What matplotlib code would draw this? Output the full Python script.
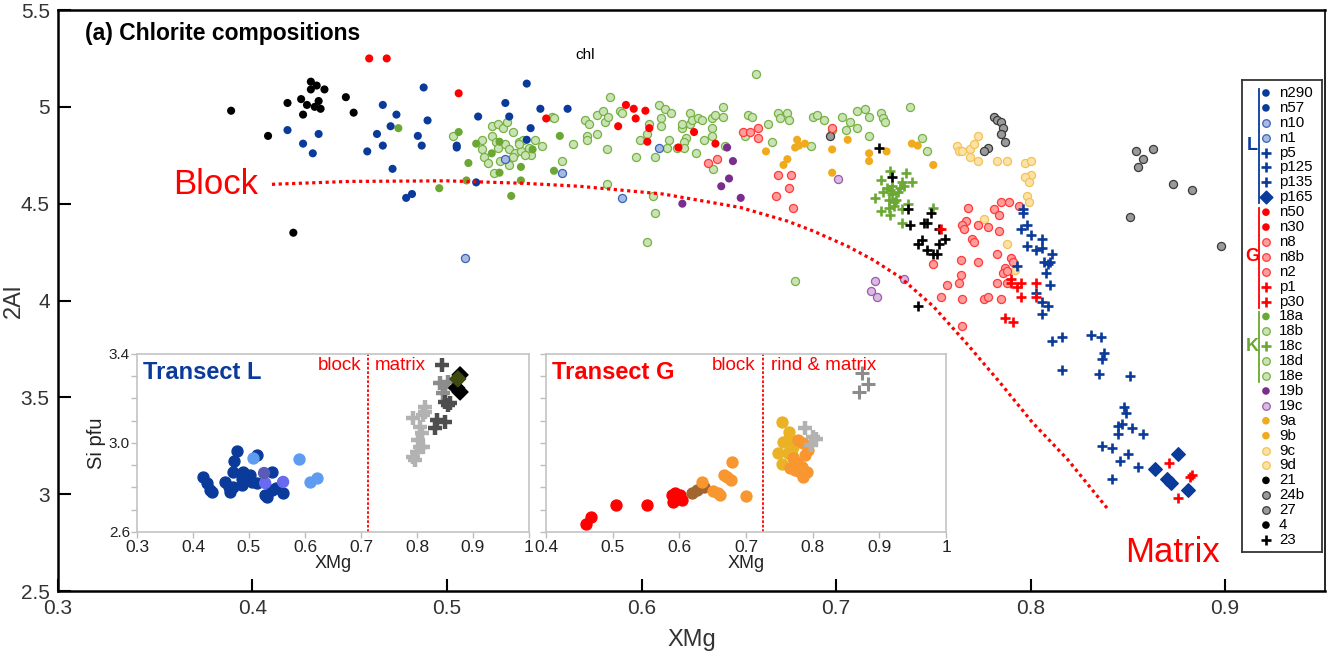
import matplotlib.pyplot as plt
from matplotlib.ticker import FormatStrFormatter, MultipleLocator

plt.rcParams['font.family'] = ['Liberation Sans', 'DejaVu Sans']

# ---------------- main plot data (XMg, 2Al) ----------------
x_black = [0.389, 0.408, 0.418, 0.425, 0.428, 0.426, 0.430, 0.433, 0.430, 0.437,
           0.434, 0.432, 0.435, 0.448, 0.452, 0.421]
y_black = [4.98, 4.85, 5.02, 5.04, 5.01, 4.96, 5.13, 5.11, 5.09, 5.09,
           5.03, 5.00, 4.99, 5.05, 4.97, 4.35]

x_dblue = [0.418, 0.426, 0.431, 0.434, 0.467, 0.474, 0.471, 0.464, 0.467, 0.459,
           0.472, 0.479, 0.482, 0.488, 0.490, 0.485, 0.487, 0.505, 0.505, 0.516,
           0.530, 0.532, 0.541, 0.543, 0.541, 0.548, 0.562, 0.515]
y_dblue = [4.88, 4.81, 4.76, 4.86, 5.01, 4.96, 4.90, 4.86, 4.80, 4.77,
           4.68, 4.53, 4.55, 5.10, 4.93, 4.85, 4.80, 4.79, 4.80, 4.95,
           5.02, 4.95, 5.12, 4.89, 4.83, 4.99, 4.99, 4.61]

x_red = [0.460, 0.469, 0.506, 0.551, 0.592, 0.596, 0.597, 0.602, 0.588, 0.603,
         0.604, 0.627, 0.638, 0.619]
y_red = [5.25, 5.25, 5.07, 4.94, 5.01, 4.99, 4.94, 4.98, 4.90, 4.82,
         4.89, 4.87, 4.81, 4.79]

x_lgreen = [0.503, 0.523, 0.526, 0.529, 0.531, 0.534, 0.518, 0.523, 0.525, 0.530,
            0.537, 0.539, 0.545, 0.549, 0.518, 0.526, 0.532, 0.535, 0.538, 0.542,
            0.543, 0.519, 0.521, 0.527, 0.532, 0.524, 0.554, 0.555, 0.559, 0.565,
            0.571, 0.573, 0.577, 0.572, 0.572, 0.577, 0.534, 0.537, 0.540, 0.580,
            0.581, 0.583, 0.584, 0.582, 0.589, 0.590, 0.599, 0.597, 0.603, 0.604,
            0.609, 0.612, 0.615, 0.610, 0.610, 0.607, 0.614, 0.613, 0.618, 0.621,
            0.621, 0.625, 0.625, 0.626, 0.629, 0.631, 0.623, 0.622, 0.622, 0.628,
            0.632, 0.636, 0.636, 0.636, 0.638, 0.642, 0.642, 0.643, 0.637, 0.655,
            0.657, 0.653, 0.659, 0.665, 0.670, 0.671, 0.675, 0.676, 0.667, 0.687,
            0.688, 0.690, 0.694, 0.698, 0.703, 0.705, 0.707, 0.711, 0.715, 0.717,
            0.711, 0.717, 0.723, 0.724, 0.725, 0.738, 0.744, 0.747, 0.582, 0.606,
            0.607, 0.603, 0.679]
y_lgreen = [4.85, 4.90, 4.91, 4.89, 4.92, 4.87, 4.83, 4.85, 4.82, 4.81,
            4.82, 4.83, 4.83, 4.80, 4.78, 4.79, 4.78, 4.76, 4.77, 4.79,
            4.75, 4.74, 4.71, 4.72, 4.70, 4.66, 4.95, 4.94, 4.72, 4.81,
            4.93, 4.91, 4.96, 4.85, 4.83, 4.86, 4.74, 4.81, 4.75, 4.98,
            4.92, 4.95, 5.05, 4.78, 4.98, 4.97, 4.83, 4.74, 4.86, 4.91,
            5.01, 4.99, 4.97, 4.94, 4.90, 4.74, 4.83, 4.79, 4.79, 4.89,
            4.91, 4.97, 4.91, 4.93, 4.94, 4.93, 4.84, 4.82, 4.79, 4.76,
            4.83, 4.89, 4.85, 4.94, 4.96, 5.00, 4.95, 4.80, 4.68, 4.96,
            4.95, 4.85, 5.17, 4.91, 4.97, 4.94, 4.97, 4.93, 4.82, 4.80,
            4.95, 4.96, 4.93, 4.88, 4.95, 4.88, 4.92, 4.98, 4.99, 4.95,
            4.89, 4.85, 4.97, 4.94, 4.92, 5.00, 4.84, 4.77, 4.60, 4.54,
            4.45, 4.30, 4.10]

x_green = [0.475, 0.506, 0.515, 0.511, 0.510, 0.496, 0.523, 0.527, 0.538, 0.538,
           0.533, 0.544, 0.555, 0.558, 0.527]
y_green = [4.89, 4.87, 4.81, 4.71, 4.62, 4.58, 4.76, 4.66, 4.69, 4.62,
           4.54, 4.78, 4.67, 4.85, 4.82]

x_gplus = [0.728, 0.736, 0.723, 0.734, 0.739, 0.724, 0.720, 0.728, 0.729, 0.732,
           0.731, 0.727, 0.730, 0.723, 0.728, 0.727, 0.734, 0.737, 0.734, 0.750,
           0.735, 0.729, 0.733, 0.726, 0.730]
y_gplus = [4.67, 4.66, 4.62, 4.61, 4.61, 4.56, 4.53, 4.57, 4.55, 4.56,
           4.52, 4.52, 4.51, 4.46, 4.44, 4.48, 4.47, 4.50, 4.40, 4.48,
           4.59, 4.59, 4.58, 4.58, 4.49]

x_lblue = [0.530, 0.559, 0.509, 0.609, 0.590]
y_lblue = [4.73, 4.66, 4.22, 4.79, 4.53]

x_purple = [0.644, 0.647, 0.645, 0.641, 0.651, 0.621]
y_purple = [4.79, 4.72, 4.63, 4.59, 4.53, 4.50]

x_lpurple = [0.701, 0.720, 0.718, 0.721, 0.735]
y_lpurple = [4.63, 4.10, 4.05, 4.02, 4.11]

x_orange = [0.664, 0.673, 0.675, 0.680, 0.681, 0.679, 0.684, 0.698, 0.698, 0.706,
            0.717, 0.717, 0.726, 0.739, 0.742, 0.750]
y_orange = [4.77, 4.70, 4.73, 4.83, 4.80, 4.79, 4.81, 4.78, 4.66, 4.83,
            4.76, 4.72, 4.77, 4.81, 4.80, 4.70]

x_lyellow = [0.762, 0.763, 0.765, 0.769, 0.771, 0.773, 0.769, 0.773, 0.783, 0.788,
             0.797, 0.800, 0.800, 0.797, 0.799, 0.798, 0.799, 0.776, 0.788, 0.792]
y_lyellow = [4.80, 4.77, 4.77, 4.78, 4.81, 4.85, 4.74, 4.72, 4.72, 4.72,
             4.71, 4.72, 4.65, 4.64, 4.61, 4.54, 4.51, 4.42, 4.29, 4.16]

x_gray = [0.781, 0.783, 0.785, 0.786, 0.785, 0.787, 0.778, 0.776, 0.854, 0.863,
          0.858, 0.855, 0.873, 0.883, 0.851, 0.898, 0.697]
y_gray = [4.95, 4.93, 4.92, 4.89, 4.86, 4.82, 4.79, 4.77, 4.77, 4.78,
          4.73, 4.69, 4.60, 4.57, 4.43, 4.28, 4.85]

x_lred = [0.652, 0.656, 0.660, 0.660, 0.634, 0.639, 0.670, 0.677, 0.676, 0.669,
          0.678, 0.698, 0.768, 0.781, 0.785, 0.789, 0.784, 0.794, 0.767, 0.765,
          0.766, 0.773, 0.778, 0.784, 0.770, 0.771, 0.783, 0.790, 0.791, 0.750,
          0.764, 0.773, 0.787, 0.786, 0.788, 0.764, 0.763, 0.783, 0.788, 0.757,
          0.754, 0.765, 0.776, 0.778, 0.785, 0.765]
y_lred = [4.87, 4.87, 4.89, 4.84, 4.71, 4.73, 4.65, 4.65, 4.58, 4.54,
          4.48, 4.89, 4.48, 4.47, 4.51, 4.51, 4.44, 4.49, 4.41, 4.39,
          4.37, 4.39, 4.38, 4.36, 4.32, 4.30, 4.24, 4.22, 4.20, 4.19,
          4.21, 4.20, 4.17, 4.14, 4.15, 4.13, 4.09, 4.09, 4.09, 4.08,
          4.02, 4.01, 4.01, 4.02, 4.01, 3.87]

x_rplus = [0.790, 0.790, 0.793, 0.795, 0.795, 0.803, 0.803, 0.787, 0.791, 0.871,
           0.883, 0.882, 0.876, 0.754]
y_rplus = [4.11, 4.09, 4.07, 4.09, 4.02, 4.09, 4.02, 3.91, 3.89, 3.16,
           3.10, 3.09, 2.98, 4.37]

x_bplus = [0.796, 0.796, 0.795, 0.798, 0.800, 0.806, 0.798, 0.803, 0.806, 0.811,
           0.807, 0.809, 0.810, 0.793, 0.808, 0.810, 0.803, 0.806, 0.809, 0.806,
           0.811, 0.816, 0.831, 0.836, 0.838, 0.837, 0.816, 0.835, 0.851, 0.848,
           0.849, 0.845, 0.847, 0.852, 0.845, 0.858, 0.837, 0.842, 0.850, 0.846,
           0.855, 0.842]
y_bplus = [4.47, 4.45, 4.37, 4.39, 4.34, 4.32, 4.28, 4.26, 4.27, 4.24,
           4.20, 4.19, 4.20, 4.18, 4.14, 4.08, 4.04, 3.99, 3.97, 3.93,
           3.79, 3.81, 3.82, 3.81, 3.73, 3.70, 3.64, 3.62, 3.61, 3.45,
           3.42, 3.35, 3.36, 3.34, 3.31, 3.31, 3.25, 3.24, 3.21, 3.17,
           3.14, 3.08]

x_bdiam = [0.876, 0.864, 0.870, 0.872, 0.881]
y_bdiam = [3.21, 3.13, 3.08, 3.06, 3.02]

x_kplus = [0.722, 0.729, 0.737, 0.749, 0.738, 0.745, 0.747, 0.753, 0.756, 0.744,
           0.742, 0.753, 0.747, 0.750, 0.752, 0.742]
y_kplus = [4.79, 4.64, 4.47, 4.45, 4.39, 4.40, 4.40, 4.37, 4.32, 4.31,
           4.29, 4.29, 4.26, 4.24, 4.24, 3.97]

# block -> matrix guide curve
curve_x = [0.410, 0.450, 0.500, 0.540, 0.568, 0.611, 0.651, 0.675, 0.688, 0.706,
           0.719, 0.733, 0.750, 0.767, 0.784, 0.801, 0.819, 0.840]
curve_y = [4.600, 4.615, 4.618, 4.605, 4.59, 4.55, 4.48, 4.41, 4.36, 4.28,
           4.21, 4.12, 3.97, 3.78, 3.58, 3.37, 3.18, 2.92]

# ---------------- inset data (XMg, Si pfu) ----------------
L_dblue_x = [0.418, 0.425, 0.430, 0.434, 0.457, 0.464, 0.466, 0.471, 0.473, 0.479,
             0.471, 0.489, 0.488, 0.488, 0.502, 0.505, 0.514, 0.514, 0.529, 0.532,
             0.541, 0.541, 0.548, 0.561]
L_dblue_y = [2.847, 2.820, 2.789, 2.780, 2.825, 2.802, 2.780, 2.802, 2.919, 2.964,
             2.870, 2.870, 2.838, 2.811, 2.856, 2.825, 2.820, 2.946, 2.766, 2.757,
             2.870, 2.789, 2.798, 2.775]
L_light_x = [0.507, 0.589, 0.609, 0.621]
L_light_y = [2.933, 2.928, 2.825, 2.843]
L_violet_x = [0.529, 0.561, 0.527]
L_violet_y = [2.820, 2.825, 2.865]
L_lgray_x = [0.793, 0.814, 0.811, 0.805, 0.809, 0.802, 0.805, 0.811, 0.800, 0.793, 0.796, 0.814]
L_lgray_y = [3.112, 3.162, 3.126, 3.072, 3.045, 3.013, 2.982, 2.982, 2.960, 2.937, 2.924, 3.139]
L_mgray_x = [0.841, 0.850, 0.855, 0.846]
L_mgray_y = [3.270, 3.252, 3.274, 3.225]
L_dgray_x = [0.845, 0.850, 0.855, 0.836, 0.850, 0.832, 0.859]
L_dgray_y = [3.351, 3.184, 3.171, 3.103, 3.094, 3.067, 3.180]
L_diam_x = [0.877, 0.871, 0.877, 0.873]
L_diam_y = [3.306, 3.247, 3.229, 3.288]

G_red_x = [0.460, 0.468, 0.505, 0.552, 0.589, 0.594, 0.591, 0.601, 0.604, 0.598]
G_red_y = [2.636, 2.667, 2.721, 2.721, 2.766, 2.775, 2.735, 2.766, 2.744, 2.757]
G_brown_x = [0.619, 0.627, 0.637]
G_brown_y = [2.775, 2.789, 2.802]
G_orange_x = [0.634, 0.650, 0.661, 0.658, 0.667, 0.671, 0.677, 0.679, 0.700, 0.770,
              0.778, 0.785, 0.788, 0.784, 0.791, 0.773, 0.766, 0.776, 0.793, 0.785, 0.781]
G_orange_y = [2.825, 2.784, 2.766, 2.775, 2.856, 2.847, 2.834, 2.915, 2.762, 2.933,
              3.013, 3.000, 2.946, 2.892, 2.870, 2.879, 2.888, 2.915, 2.969, 2.847, 2.870]
G_gold_x = [0.754, 0.764, 0.755, 0.763, 0.770, 0.748, 0.763, 0.754, 0.769]
G_gold_y = [3.094, 3.049, 3.004, 3.013, 2.982, 2.955, 2.955, 2.906, 2.946]
G_lgray_x = [0.789, 0.800, 0.805, 0.797]
G_lgray_y = [3.067, 3.027, 3.018, 2.991]
G_mgray_x = [0.874, 0.883, 0.869]
G_mgray_y = [3.315, 3.265, 3.229]

# ---------------- legend ----------------
legend_labels = ['n290', 'n57', 'n10', 'n1', 'p5', 'p125', 'p135', 'p165',
                 'n50', 'n30', 'n8', 'n8b', 'n2', 'p1', 'p30',
                 '18a', '18b', '18c', '18d', '18e',
                 '19b', '19c', '9a', '9b', '9c', '9d', '21', '24b', '27', '4', '23']
legend_keys = ['dblue', 'dblue', 'lblue', 'lblue', 'bplus', 'bplus', 'bplus', 'bdiam',
               'red', 'red', 'lred', 'lred', 'lred', 'rplus', 'rplus',
               'green', 'lgreen', 'gplus', 'lgreen', 'lgreen',
               'purple', 'lpurple', 'orange', 'orange', 'lyellow', 'lyellow',
               'black', 'gray', 'gray', 'black', 'kplus']
groups = [('L', 0, 7, '#0a3a9a'), ('G', 8, 14, '#ff0000'), ('K', 15, 19, '#6aa833')]

STYLES = {
    'dblue': ('o', '#0a3a9a', 'none'),
    'lblue': ('o', '#a9b9e0', '#3763b8'),
    'bplus': ('+', '#0a3a9a', None),
    'bdiam': ('D', '#0a3a9a', None),
    'red': ('o', '#ff0000', 'none'),
    'lred': ('o', '#ff9d9d', '#ff3a3a'),
    'rplus': ('+', '#ff0000', None),
    'green': ('o', '#6aa833', 'none'),
    'lgreen': ('o', '#cae3b4', '#77b144'),
    'gplus': ('+', '#6aa833', None),
    'purple': ('o', '#7b2d8e', 'none'),
    'lpurple': ('o', '#dabae2', '#9b5bab'),
    'orange': ('o', '#f0aa1e', 'none'),
    'lyellow': ('o', '#fde2a6', '#f2c25a'),
    'black': ('o', 'black', 'none'),
    'gray': ('o', '#9a9a9a', '#3a3a3a'),
    'kplus': ('+', 'black', None),
}


def draw(ax, x, y, key, s=34, zorder=3):
    marker, color, edge = STYLES[key]
    if marker == '+':
        ax.scatter(x, y, marker='+', s=s * 1.5, c=color, linewidths=1.9, zorder=zorder)
    elif marker == 'D':
        ax.scatter(x, y, marker='D', s=s * 1.4, c=color, zorder=zorder)
    else:
        ax.scatter(x, y, marker='o', s=s, c=color, edgecolors=edge, linewidths=0.9, zorder=zorder)


fig = plt.figure(figsize=(13.27, 6.55), dpi=100)
ax = fig.add_axes([0.0437, 0.0977, 0.9548, 0.887])

draw(ax, x_lgreen, y_lgreen, 'lgreen')
draw(ax, x_green, y_green, 'green')
draw(ax, x_black, y_black, 'black')
draw(ax, x_dblue, y_dblue, 'dblue')
draw(ax, x_red, y_red, 'red')
draw(ax, x_lblue, y_lblue, 'lblue')
draw(ax, x_purple, y_purple, 'purple')
draw(ax, x_lpurple, y_lpurple, 'lpurple')
draw(ax, x_orange, y_orange, 'orange')
draw(ax, x_lyellow, y_lyellow, 'lyellow')
draw(ax, x_gray, y_gray, 'gray')
draw(ax, x_lred, y_lred, 'lred')
draw(ax, x_gplus, y_gplus, 'gplus')
draw(ax, x_kplus, y_kplus, 'kplus')
draw(ax, x_bplus, y_bplus, 'bplus')
draw(ax, x_rplus, y_rplus, 'rplus')
draw(ax, x_bdiam, y_bdiam, 'bdiam')

ax.plot(curve_x, curve_y, color='red', lw=2.3, ls=(0, (1, 1.1)), zorder=4)

ax.set_xlim(0.3, 0.9514)
ax.set_ylim(2.5, 5.5)
ax.set_xticks([0.3, 0.4, 0.5, 0.6, 0.7, 0.8, 0.9])
ax.set_yticks([2.5, 3, 3.5, 4, 4.5, 5, 5.5])
ax.xaxis.set_major_formatter(FormatStrFormatter('%g'))
ax.yaxis.set_major_formatter(FormatStrFormatter('%g'))
ax.tick_params(direction='in', length=9, width=1.5, labelsize=15, pad=6, colors='black',
               labelcolor='#333333')
for side in ['left', 'bottom', 'top']:
    ax.spines[side].set_linewidth(1.8)
ax.spines['right'].set_linewidth(1.2)
ax.set_xlabel('XMg', fontsize=17, color='#333333', labelpad=8)
ax.set_ylabel('2Al', fontsize=17, color='#333333')
ax.yaxis.set_label_coords(-0.026, 0.5)

ax.text(0.0213, 0.960, '(a) Chlorite compositions', transform=ax.transAxes,
        fontsize=16.5, fontweight='bold', va='center', ha='left')
ax.text(0.416, 0.9225, 'chl', transform=ax.transAxes, fontsize=11, va='center', ha='center')
ax.text(0.381, 4.60, 'Block', color='red', fontsize=25, ha='center', va='center')
ax.text(0.873, 2.70, 'Matrix', color='red', fontsize=25, ha='center', va='center')

# ---------------- insets ----------------
insL = fig.add_axes([0.1032, 0.1878, 0.2954, 0.2718])
insG = fig.add_axes([0.4115, 0.1878, 0.3014, 0.2718])

insL.scatter(L_dblue_x, L_dblue_y, s=62, c='#0a3a9a', zorder=3)
insL.scatter(L_light_x, L_light_y, s=62, c='#5e9cf2', zorder=3)
insL.scatter(L_violet_x, L_violet_y, s=62, c=['#6a6af0', '#6a6af0', '#5a5ab8'], zorder=3)
insL.scatter(L_lgray_x, L_lgray_y, marker='+', s=110, c='#b2b2b2', linewidths=3.2, zorder=3)
insL.scatter(L_mgray_x, L_mgray_y, marker='+', s=110, c='#8c8c8c', linewidths=3.2, zorder=3)
insL.scatter(L_dgray_x, L_dgray_y, marker='+', s=110, c='#4e4e4e', linewidths=3.2, zorder=3)
insL.scatter(L_diam_x, L_diam_y, marker='D', s=65, c=['black', 'black', 'black', '#3f4a10'],
             zorder=4)

insG.scatter(G_red_x, G_red_y, s=62, c='#ff0000', zorder=3)
insG.scatter(G_brown_x, G_brown_y, s=62, c='#a2652e', zorder=3)
insG.scatter(G_gold_x, G_gold_y, s=62, c='#eab224', zorder=3)
insG.scatter(G_orange_x, G_orange_y, s=62, c='#f8962f', zorder=3)
insG.scatter(G_lgray_x, G_lgray_y, marker='+', s=110, c='#b2b2b2', linewidths=3.2, zorder=3)
insG.scatter(G_mgray_x, G_mgray_y, marker='+', s=90, c='#8c8c8c', linewidths=2.2, zorder=3)

for ins, x0, boundary, right_txt, title, tcol in [
        (insL, 0.3, 0.712, 'matrix', 'Transect L', '#0a3a9a'),
        (insG, 0.4, 0.726, 'rind & matrix', 'Transect G', '#ff0000')]:
    ins.set_xlim(x0, 1.0)
    ins.set_ylim(2.6, 3.4)
    ins.set_xticks([round(x0 + 0.1 * i, 1) for i in range(int(round((1.0 - x0) * 10)) + 1)])
    ins.xaxis.set_major_formatter(FormatStrFormatter('%g'))
    ins.set_yticks([2.6, 3.0, 3.4])
    ins.yaxis.set_minor_locator(MultipleLocator(0.1))
    ins.yaxis.set_major_formatter(FormatStrFormatter('%.1f'))
    ins.tick_params(which='both', direction='out', length=4, width=1, color='#bdbdbd',
                    labelsize=12.5, pad=2, labelcolor='#222222')
    ins.tick_params(axis='y', labelsize=11, pad=1)
    for sp in ins.spines.values():
        sp.set_color('#c4c4c4')
        sp.set_linewidth(1.2)
    ins.set_xlabel('XMg', fontsize=13, labelpad=0, color='#222222')
    ins.axvline(boundary, color='red', lw=1.3, ls=(0, (1.5, 1)), zorder=2)
    ins.text(boundary - 0.012, 3.35, 'block', color='red', fontsize=13.5, ha='right', va='center')
    ins.text(boundary + 0.012, 3.35, right_txt, color='red', fontsize=13.5, ha='left', va='center')
    ins.text(0.016, 0.895, title, color=tcol, fontsize=17, fontweight='bold',
             transform=ins.transAxes, ha='left', va='center')

insG.tick_params(axis='y', labelleft=False)
insL.set_ylabel('Si pfu', fontsize=14.5, labelpad=2, color='#222222')

# ---------------- legend box ----------------
lax = fig.add_axes([0.9359, 0.1573, 0.0603, 0.7206])
lax.set_xlim(0, 80)
lax.set_ylim(472, 0)
lax.set_xticks([])
lax.set_yticks([])
for sp in lax.spines.values():
    sp.set_color('#333333')
    sp.set_linewidth(1.3)
step = 14.9
for i, (lab, key) in enumerate(zip(legend_labels, legend_keys)):
    yy = 13 + i * step
    draw(lax, [24], [yy], key, s=30)
    lax.text(37, yy, lab, fontsize=10.8, va='center', ha='left')
for letter, i0, i1, col in groups:
    lax.plot([17, 17], [13 + i0 * step - 4, 13 + i1 * step + 6], color=col, lw=1.3)
    lax.text(10, 13 + (i0 + i1) / 2 * step, letter, color=col, fontsize=13,
             fontweight='bold', ha='center', va='center')

fig.savefig('out.png', dpi=100)
